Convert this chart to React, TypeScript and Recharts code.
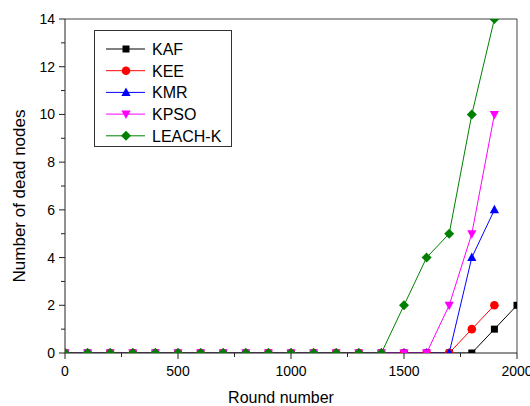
import React from 'react';
import * as Recharts from 'recharts';
import {
  LineChart,
  Line,
  XAxis,
  YAxis,
  Legend,
  ReferenceLine,
} from 'recharts';

// rounds sampled every 100
const rounds = [
  0, 100, 200, 300, 400, 500, 600, 700, 800, 900, 1000,
  1100, 1200, 1300, 1400, 1500, 1600, 1700, 1800, 1900, 2000,
];

const kaf = [0, 0, 0, 0, 0, 0, 0, 0, 0, 0, 0, 0, 0, 0, 0, 0, 0, 0, 0, 1, 2];
const kee = [0, 0, 0, 0, 0, 0, 0, 0, 0, 0, 0, 0, 0, 0, 0, 0, 0, 0, 1, 2];
const kmr = [0, 0, 0, 0, 0, 0, 0, 0, 0, 0, 0, 0, 0, 0, 0, 0, 0, 0, 4, 6];
const kpso = [0, 0, 0, 0, 0, 0, 0, 0, 0, 0, 0, 0, 0, 0, 0, 0, 0, 2, 5, 10];
const leachK = [0, 0, 0, 0, 0, 0, 0, 0, 0, 0, 0, 0, 0, 0, 0, 2, 4, 5, 10, 14];

const xTicks = [0, 250, 500, 750, 1000, 1250, 1500, 1750, 2000];
const yTicks = [0, 1, 2, 3, 4, 5, 6, 7, 8, 9, 10, 11, 12, 13, 14];

const data = rounds.map((round, i) => ({
  round,
  KAF: kaf[i] ?? null,
  KEE: kee[i] ?? null,
  KMR: kmr[i] ?? null,
  KPSO: kpso[i] ?? null,
  'LEACH-K': leachK[i] ?? null,
}));

const FONT = '"Liberation Sans", Arial, sans-serif';
const MARGIN = { top: 19, right: 13, left: 0, bottom: 0 };
const Y_WIDTH = 65;
const X_HEIGHT = 53;
const W = 530;
const H = 406;

type Shape = 'square' | 'circle' | 'up' | 'down' | 'diamond';

const series: { key: string; color: string; shape: Shape }[] = [
  { key: 'KAF', color: '#000000', shape: 'square' },
  { key: 'KEE', color: '#ff0000', shape: 'circle' },
  { key: 'KMR', color: '#0000ff', shape: 'up' },
  { key: 'KPSO', color: '#ff00ff', shape: 'down' },
  { key: 'LEACH-K', color: '#008000', shape: 'diamond' },
];

const Marker = ({ x, y, shape, color }: { x: number; y: number; shape: Shape; color: string }) => {
  switch (shape) {
    case 'square':
      return <rect x={x - 3.5} y={y - 3.5} width={7} height={7} fill={color} />;
    case 'circle':
      return <circle cx={x} cy={y} r={4.3} fill={color} />;
    case 'up':
      return <polygon points={`${x},${y - 5} ${x - 4.6},${y + 3.5} ${x + 4.6},${y + 3.5}`} fill={color} />;
    case 'down':
      return <polygon points={`${x},${y + 5} ${x - 4.6},${y - 3.5} ${x + 4.6},${y - 3.5}`} fill={color} />;
    default:
      return <polygon points={`${x},${y - 5} ${x + 5},${y} ${x},${y + 5} ${x - 5},${y}`} fill={color} />;
  }
};

// clip region for the markers, so points on the frame are cut in half
const PlotClip = () => {
  const hook = (Recharts as any).usePlotArea;
  const area = hook ? hook() : null;
  const x = area?.x ?? MARGIN.left + Y_WIDTH;
  const y = area?.y ?? MARGIN.top;
  const width = area?.width ?? W - MARGIN.left - MARGIN.right - Y_WIDTH;
  const height = area?.height ?? H - MARGIN.top - MARGIN.bottom - X_HEIGHT;
  return (
    <defs>
      <clipPath id="plot-area-clip">
        <rect x={x} y={y} width={width} height={height} />
      </clipPath>
    </defs>
  );
};

const XTick = (props: any) => {
  const { x, y, payload } = props;
  const major = payload.value % 500 === 0;
  return (
    <g>
      <line x1={x} x2={x} y1={y} y2={y + (major ? 6 : 4)} stroke="#222" />
      {major && (
        <text x={x} y={y + 23} textAnchor="middle" fontSize={14} fontFamily={FONT} fill="#000">
          {payload.value}
        </text>
      )}
    </g>
  );
};

const YTick = (props: any) => {
  const { x, y, payload } = props;
  const major = payload.value % 2 === 0;
  return (
    <g>
      <line x1={x} x2={x - (major ? 6 : 4)} y1={y} y2={y} stroke="#222" />
      {major && (
        <text x={x - 10} y={y + 5} textAnchor="end" fontSize={14} fontFamily={FONT} fill="#000">
          {payload.value}
        </text>
      )}
    </g>
  );
};

const LegendBox = () => (
  <div
    style={{
      width: 138,
      height: 117,
      border: '1px solid #333',
      background: '#fff',
      boxSizing: 'border-box',
    }}
  >
    <svg width={136} height={115}>
      {series.map((s, i) => {
        const cy = 18 + i * 21.7;
        return (
          <g key={s.key}>
            <line x1={11} x2={50} y1={cy} y2={cy} stroke={s.color} strokeWidth={1} />
            <Marker x={31} y={cy} shape={s.shape} color={s.color} />
            <text x={57} y={cy + 6} fontSize={16} fontFamily={FONT} fill="#000">
              {s.key}
            </text>
          </g>
        );
      })}
    </svg>
  </div>
);

export default function App() {
  return (
    <div style={{ position: 'absolute', left: 0, top: 0, background: '#fff' }}>
      <LineChart width={W} height={H} data={data} margin={MARGIN}>
        <PlotClip />
        <XAxis
          dataKey="round"
          type="number"
          domain={[0, 2000]}
          ticks={xTicks}
          allowDataOverflow
          height={X_HEIGHT}
          tickSize={0}
          tickMargin={0}
          tickLine={false}
          tick={<XTick />}
          axisLine={{ stroke: '#222' }}
          interval={0}
          label={{
            content: ({ viewBox }: any) => (
              <text
                x={viewBox.x + viewBox.width / 2 - 10}
                y={viewBox.y + 50}
                textAnchor="middle"
                fontSize={16}
                fontFamily={FONT}
                fill="#000"
              >
                Round number
              </text>
            ),
          }}
        />
        <YAxis
          type="number"
          domain={[0, 14]}
          ticks={yTicks}
          allowDataOverflow
          width={Y_WIDTH}
          tickSize={0}
          tickMargin={0}
          tickLine={false}
          tick={<YTick />}
          axisLine={{ stroke: '#222' }}
          interval={0}
          label={{
            content: ({ viewBox }: any) => {
              const cx = 25;
              const cy = viewBox.y + viewBox.height / 2 + 10;
              return (
                <text
                  x={cx}
                  y={cy}
                  transform={`rotate(-90 ${cx} ${cy})`}
                  textAnchor="middle"
                  fontSize={17}
                  fontFamily={FONT}
                  fill="#000"
                >
                  Number of dead nodes
                </text>
              );
            },
          }}
        />
        <ReferenceLine y={14} stroke="#444" ifOverflow="visible" />
        <ReferenceLine x={2000} stroke="#444" ifOverflow="visible" />
        {series.map((s) => (
          <Line
            key={s.key}
            dataKey={s.key}
            stroke={s.color}
            strokeWidth={1}
            isAnimationActive={false}
            connectNulls={false}
            dot={(p: any) =>
              p.cx == null || p.cy == null || p.value == null ? (
                <g key={`${s.key}-${p.index}`} />
              ) : (
                <g key={`${s.key}-${p.index}`} clipPath="url(#plot-area-clip)">
                  <Marker x={p.cx} y={p.cy} shape={s.shape} color={s.color} />
                </g>
              )
            }
            activeDot={false}
            legendType="none"
          />
        ))}
        <Legend
          layout="horizontal"
          verticalAlign="middle"
          align="center"
          content={() => <LegendBox />}
          wrapperStyle={{ position: 'absolute', left: 94, top: 30, width: 'auto' }}
        />
      </LineChart>
    </div>
  );
}
